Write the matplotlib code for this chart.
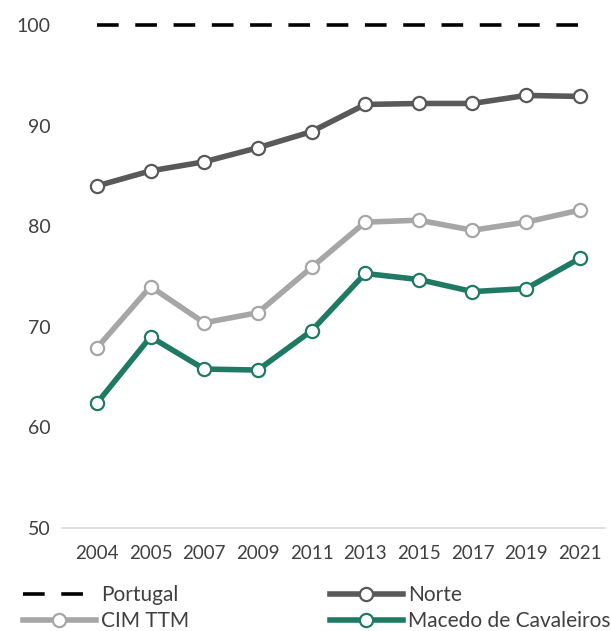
import numpy as np
import matplotlib.pyplot as plt

plt.rcParams['font.family'] = ['Lato', 'DejaVu Sans']

#Data
years = ['2004', '2005', '2007', '2009', '2011', '2013', '2015', '2017', '2019', '2021']
portugal = [100, 100, 100, 100, 100, 100, 100, 100, 100, 100]
norte = [84.0, 85.5, 86.4, 87.8, 89.4, 92.1, 92.2, 92.2, 93.0, 92.9]
cim_ttm = [67.9, 74.0, 70.4, 71.4, 75.9, 80.4, 80.6, 79.6, 80.4, 81.6]
macedo = [62.4, 69.0, 65.8, 65.7, 69.6, 75.3, 74.7, 73.5, 73.8, 76.8]

x = np.arange(len(years))

fig = plt.figure(figsize=(6.11, 6.31), dpi=100)
ax = fig.add_axes([62/611, (631-528)/631, 543/611, 503/631])

mk = dict(marker='o', markersize=9.5, markerfacecolor='white', markeredgewidth=1.6)

L_pt, = ax.plot(x, portugal, color='black', lw=2.6, ls=(0, (6, 4.6)), label='Portugal', clip_on=False)
L_no, = ax.plot(x, norte, color='#595959', lw=4, markeredgecolor='#595959', label='Norte', **mk)
L_cim, = ax.plot(x, cim_ttm, color='#A6A6A6', lw=4, markeredgecolor='#A6A6A6', label='CIM TTM', **mk)
L_mc, = ax.plot(x, macedo, color='#1F7A63', lw=4, markeredgecolor='#1F7A63', label='Macedo de Cavaleiros', **mk)

ax.set_xlim(-0.65, 9.47)
ax.set_ylim(50, 100)
ax.set_yticks([50, 60, 70, 80, 90, 100])
ax.set_xticks(x)
ax.set_xticklabels(years)

for s in ['top', 'right', 'left']:
	ax.spines[s].set_visible(False)
ax.spines['bottom'].set_color('#D9D9D9')
ax.spines['bottom'].set_linewidth(1.2)

ax.tick_params(axis='y', length=0, labelsize=14, labelcolor='#404040', pad=8)
ax.tick_params(axis='x', length=0, labelsize=13.5, labelcolor='#404040', pad=12)

fig.legend(handles=[L_pt, L_cim, L_no, L_mc], ncol=2, loc='lower left',
	bbox_to_anchor=(0.007, -0.03), frameon=False, fontsize=15,
	handlelength=3.5, handletextpad=0.25, columnspacing=6.75, labelspacing=0.3,
	numpoints=1, labelcolor='#404040')

plt.savefig('out.png', dpi=100)
